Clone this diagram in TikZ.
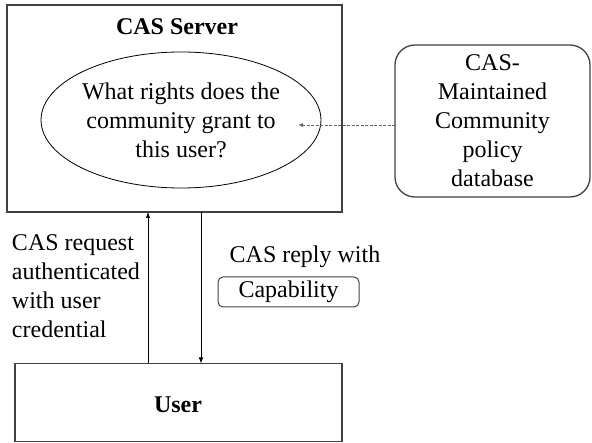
\documentclass[tikz,border=0pt]{standalone}
\usepackage{fontspec}
\setmainfont{LiberationSerif}[Extension=.ttf, UprightFont=*-Regular, BoldFont=*-Bold]
\usetikzlibrary{arrows.meta,positioning,shapes.geometric}
\begin{document}
\begin{tikzpicture}[x=1pt,y=-1pt,
    every node/.style={font=\fontsize{24}{29}\selectfont, inner sep=0pt, outer sep=0pt},
    box/.style={draw=black!75, line width=1.3pt},
    flow/.style={-{Latex[length=6pt,width=4.5pt]}, line width=0.8pt}]
    \useasboundingbox (0,0) rectangle (592,443);
    % server side
    \node[box, minimum width=335pt, minimum height=207pt] (server) at (174.5,108.5) {};
    \node[font=\bfseries\fontsize{24}{29}\selectfont] (title) at (177,27) {CAS Server};
    \node[draw, ellipse, line width=0.8pt, minimum width=270pt, minimum height=136pt, align=center] (query) at (181,120) {What rights does the\\community grant to\\this user?};
    \node[box, rounded corners=20pt, minimum width=195pt, minimum height=152pt, align=center] (db) at (492.5,121) {CAS-\\Maintained\\Community\\policy\\database};
    \coordinate (tip) at (298,125);
    \draw[-{Latex[length=5pt,width=4pt]}, dashed, dash pattern=on 3pt off 1.5pt, black!60, line width=0.8pt] (db.west |- tip) -- (tip);
    % user side
    \node[box, minimum width=327pt, minimum height=78pt] (user) at (178.5,402.5) {};
    \node[font=\bfseries\fontsize{24}{29}\selectfont] (username) at (178,405) {User};
    \coordinate (upx) at (148,0);
    \coordinate (downx) at (201,0);
    \draw[flow] (user.north -| upx) -- (server.south -| upx);
    \draw[flow] (server.south -| downx) -- (user.north -| downx);
    \node[anchor=west, align=left] (request) at (12,286.5) {CAS request\\authenticated\\with user\\credential};
    \node (reply) at (305,257) {CAS reply with};
    \node[draw=black!75, line width=1pt, rounded corners=5pt, minimum width=141pt, minimum height=30pt] (cap) at (288.5,292) {Capability};
\end{tikzpicture}
\end{document}
